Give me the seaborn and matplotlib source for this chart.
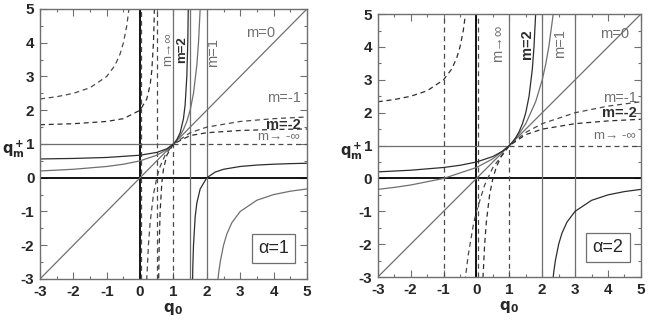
import numpy as np
import pandas as pd
import seaborn as sns
import matplotlib.pyplot as plt

# ---- curves, alpha = 1 panel ----
a1_m1_left_x = [-3, -2, -1, -0.5, 0, 0.5, 0.8, 1, 1.1, 1.2, 1.3, 1.4, 1.5, 1.6, 1.7, 1.75, 1.8, 1.83]
a1_m1_left_y = [0.2, 0.25, 0.333, 0.4, 0.5, 0.667, 0.833, 1, 1.111, 1.25, 1.429, 1.667, 2, 2.5, 3.333, 4, 5, 5.88]
a1_m1_right_x = [2.3, 2.35, 2.4, 2.5, 2.6, 2.75, 3, 3.5, 4, 4.5, 5]
a1_m1_right_y = [-3.333, -2.857, -2.5, -2, -1.667, -1.333, -1, -0.667, -0.5, -0.4, -0.333]

a1_m2_left_x = [-3, -2, -1, 0, 0.5, 0.8, 1, 1.1, 1.2, 1.3, 1.35, 1.4, 1.43, 1.45]
a1_m2_left_y = [0.556, 0.571, 0.6, 0.667, 0.75, 0.857, 1, 1.125, 1.333, 1.75, 2.167, 3, 4.07, 5.5]
a1_m2_right_x = [1.56, 1.58, 1.6, 1.65, 1.7, 1.8, 2, 2.25, 2.5, 3, 3.5, 4, 4.5, 5]
a1_m2_right_y = [-3.667, -2.625, -2, -1.167, -0.75, -0.333, 0, 0.167, 0.25, 0.333, 0.375, 0.4, 0.417, 0.429]

a1_mm1_left_x = [-3, -2.5, -2, -1.5, -1, -0.75, -0.6, -0.5, -0.4, -0.33, -0.3]
a1_mm1_left_y = [2.333, 2.4, 2.5, 2.667, 3, 3.333, 3.667, 4, 4.5, 5.03, 5.333]
a1_mm1_right_x = [0.18, 0.2, 0.25, 0.3, 0.4, 0.5, 0.6, 0.75, 1, 1.5, 2, 3, 4, 5]
a1_mm1_right_y = [-3.556, -3, -2, -1.333, -0.5, 0, 0.333, 0.667, 1, 1.333, 1.5, 1.667, 1.75, 1.8]

a1_mm2_left_x = [-3, -2, -1, -0.5, 0, 0.2, 0.3, 0.35, 0.4, 0.42, 0.44]
a1_mm2_left_y = [1.571, 1.6, 1.667, 1.75, 2, 2.333, 2.75, 3.167, 4, 4.625, 5.667]
a1_mm2_right_x = [0.54, 0.55, 0.57, 0.6, 0.65, 0.7, 0.8, 1, 1.5, 2, 3, 4, 5]
a1_mm2_right_y = [-4.75, -3.5, -2.07, -1, -0.167, 0.25, 0.667, 1, 1.25, 1.333, 1.4, 1.429, 1.444]

# ---- alpha = 2 panel ----
a2_m2_left_x = a1_m1_left_x
a2_m2_left_y = a1_m1_left_y
a2_m2_right_x = a1_m1_right_x
a2_m2_right_y = a1_m1_right_y

a2_m1_x = [-3, -2.5, -2, -1, 0, 0.5, 1, 1.25, 1.5, 1.8, 2, 2.1, 2.2, 2.33, 2.4]
a2_m1_y = [-0.333, -0.273, -0.2, 0, 0.333, 0.6, 1, 1.286, 1.667, 2.333, 3, 3.444, 4, 4.97, 5.667]

a2_mm1_x = [-0.4, -0.33, -0.25, -0.1, 0, 0.25, 0.5, 1, 1.5, 2, 3, 4, 5]
a2_mm1_y = [-3.667, -2.97, -2.333, -1.444, -1, -0.2, 0.333, 1, 1.4, 1.667, 2, 2.2, 2.333]

a2_mm2_left_x = a1_mm1_left_x
a2_mm2_left_y = a1_mm1_left_y
a2_mm2_right_x = a1_mm1_right_x
a2_mm2_right_y = a1_mm1_right_y

# asymptotes / reference lines
a1_solid_vlines = [1.5, 2]
a1_dash_vlines = [0.04, 0.5]
a2_solid_vlines = [2, 3]
a2_dash_vlines = [-1, 0.04]

GRAY = "#6f6f6f"
DARK = "#2e2e2e"
DASH = "#4a4a4a"

sns.set_style("ticks")
plt.rcParams['font.family'] = ['Liberation Sans', 'DejaVu Sans']
plt.rcParams['axes.unicode_minus'] = False

fig = plt.figure(figsize=(6.48, 3.21), dpi=100)
ax1 = fig.add_axes([0.0617, 0.131, 0.412, 0.841])
ax2 = fig.add_axes([0.583, 0.137, 0.406, 0.819])


def curve(ax, x, y, color, ls="-", lw=0.9):
    sns.lineplot(x=x, y=y, ax=ax, sort=False, color=color, linestyle=ls,
                 linewidth=lw, estimator=None)


def frame(ax, solid_v, dash_v, alpha_txt):
    ax.axhline(0, color="black", lw=1.3, zorder=1)
    ax.axvline(0, color="black", lw=1.3, zorder=1)
    sns.lineplot(x=[-3, 5], y=[-3, 5], ax=ax, color=GRAY, lw=0.9)
    ax.plot([-3, 1], [1, 1], color=GRAY, lw=0.9)
    ax.plot([1, 5], [1, 1], color=DASH, lw=0.9, ls=(0, (4, 3)))
    ax.plot([1, 1], [1, 5], color=GRAY, lw=0.9)
    ax.plot([1, 1], [-3, 1], color=DASH, lw=0.9, ls=(0, (4, 3)))
    for v in solid_v:
        ax.axvline(v, color=GRAY, lw=0.9)
    for v in dash_v:
        ax.axvline(v, color=DASH, lw=0.9, ls=(0, (4, 3)))
    ax.set_xlim(-3, 5)
    ax.set_ylim(-3, 5)
    ax.set_xticks(range(-3, 6))
    ax.set_yticks(range(-3, 6))
    ax.set_xticks(np.arange(-3, 5.01, 0.5), minor=True)
    ax.set_yticks(np.arange(-3, 5.01, 0.5), minor=True)
    ax.tick_params(which="both", direction="in", top=True, right=True,
                   labelsize=11, color=GRAY, width=0.8)
    ax.tick_params(which="major", length=5, pad=4)
    ax.tick_params(which="minor", length=2.5)
    for lab in ax.get_xticklabels() + ax.get_yticklabels():
        lab.set_fontweight("bold")
    for s in ax.spines.values():
        s.set_color(GRAY)
        s.set_linewidth(1.0)
    ax.set_xlabel(r"$\mathbf{q_0}$", fontsize=11, labelpad=2)
    ax.set_ylabel(r"$\mathbf{q_m^+}$", fontsize=10.5, rotation=0, ha="center", va="center")
    ax.yaxis.set_label_coords(-0.1, 0.48)
    ax.text(4.0, -2.1, alpha_txt, fontsize=13, ha="center", va="center",
            bbox=dict(boxstyle="square,pad=0.35", fc="white", ec=GRAY, lw=0.9))


frame(ax1, a1_solid_vlines, a1_dash_vlines, "\u03b1=1")
dash = (0, (4, 3))
curve(ax1, a1_m1_left_x, a1_m1_left_y, GRAY)
curve(ax1, a1_m1_right_x, a1_m1_right_y, GRAY)
curve(ax1, a1_m2_left_x, a1_m2_left_y, DARK)
curve(ax1, a1_m2_right_x, a1_m2_right_y, DARK)
curve(ax1, a1_mm1_left_x, a1_mm1_left_y, DASH, dash)
curve(ax1, a1_mm1_right_x, a1_mm1_right_y, DASH, dash)
curve(ax1, a1_mm2_left_x, a1_mm2_left_y, DARK, dash)
curve(ax1, a1_mm2_right_x, a1_mm2_right_y, DARK, dash)

frame(ax2, a2_solid_vlines, a2_dash_vlines, "\u03b1=2")
curve(ax2, a2_m1_x, a2_m1_y, GRAY)
curve(ax2, a2_m2_left_x, a2_m2_left_y, DARK)
curve(ax2, a2_m2_right_x, a2_m2_right_y, DARK)
curve(ax2, a2_mm1_x, a2_mm1_y, DASH, dash)
curve(ax2, a2_mm2_left_x, a2_mm2_left_y, DARK, dash)
curve(ax2, a2_mm2_right_x, a2_mm2_right_y, DARK, dash)

# labels
fs = 10.5
ax1.text(3.6, 4.3, "m=0", color=GRAY, fontsize=fs, ha="center", va="center")
ax1.text(4.3, 2.35, "m=-1", color=GRAY, fontsize=fs, ha="center", va="center")
ax1.text(4.3, 1.57, "m=-2", color=DARK, fontsize=fs, ha="center", va="center", fontweight="bold")
ax1.text(4.15, 1.2, "m\u2192 -\u221e", color=GRAY, fontsize=9.5, ha="center", va="center")
ax1.text(0.84, 3.8, "m\u2192\u221e", color=GRAY, fontsize=9.5, rotation=90, ha="center", va="center")
ax1.text(1.25, 3.8, "m=2", color=DARK, fontsize=9.5, rotation=90, ha="center", va="center", fontweight="bold")
ax1.text(2.2, 3.7, "m=1", color=GRAY, fontsize=fs, rotation=90, ha="center", va="center")

ax2.text(4.2, 4.4, "m=0", color=GRAY, fontsize=fs, ha="center", va="center")
ax2.text(4.35, 2.45, "m=-1", color=GRAY, fontsize=fs, ha="center", va="center")
ax2.text(4.35, 1.98, "m=-2", color=DARK, fontsize=fs, ha="center", va="center", fontweight="bold")
ax2.text(4.2, 1.28, "m\u2192 -\u221e", color=GRAY, fontsize=9.5, ha="center", va="center")
ax2.text(0.67, 4.1, "m\u2192\u221e", color=GRAY, fontsize=fs, rotation=90, ha="center", va="center")
ax2.text(1.53, 4.1, "m=2", color=DARK, fontsize=fs, rotation=90, ha="center", va="center", fontweight="bold")
ax2.text(2.55, 4.1, "m=1", color=GRAY, fontsize=fs, rotation=90, ha="center", va="center")

fig.savefig("out.png", dpi=100)
